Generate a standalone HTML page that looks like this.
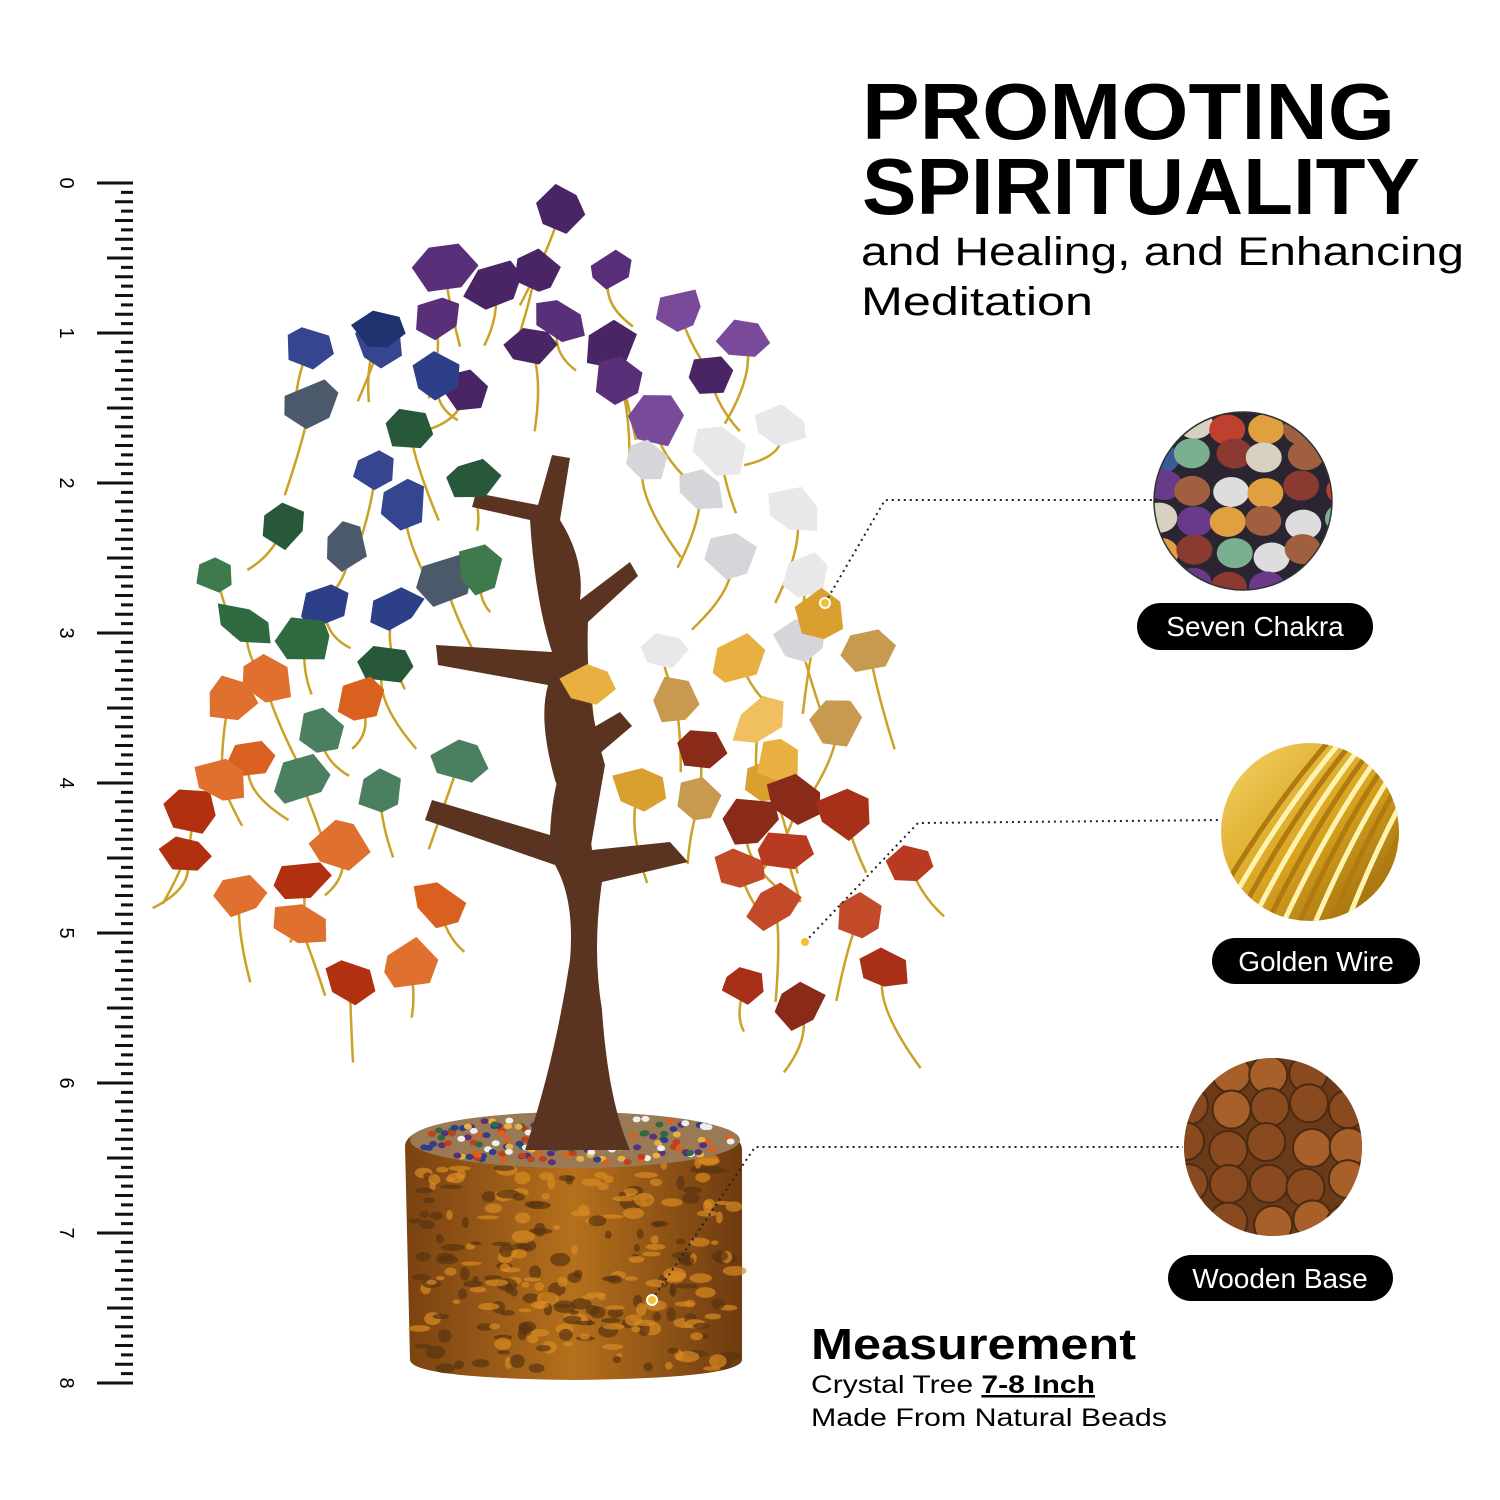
<!DOCTYPE html>
<html><head><meta charset="utf-8"><style>
html,body{margin:0;padding:0;background:#fff;}
svg{display:block;}
text{font-family:"Liberation Sans",sans-serif;}
</style></head><body>
<svg id="s" width="1500" height="1500" viewBox="0 0 1500 1500" xmlns="http://www.w3.org/2000/svg">
<rect width="1500" height="1500" fill="#fff"/>
<defs>
<clipPath id="c1"><circle cx="1243" cy="501" r="89"/></clipPath>
<clipPath id="c2"><circle cx="1310" cy="832" r="89"/></clipPath>
<clipPath id="c3"><circle cx="1273" cy="1147" r="89"/></clipPath>
<linearGradient id="gw" x1="0" y1="0" x2="1" y2="1">
<stop offset="0" stop-color="#f5d46a"/><stop offset="0.5" stop-color="#d9a520"/><stop offset="1" stop-color="#8a5a08"/></linearGradient>
<linearGradient id="wb" x1="0" y1="0" x2="1" y2="0">
<stop offset="0" stop-color="#7a4212"/><stop offset="0.5" stop-color="#b5701c"/><stop offset="1" stop-color="#6e3a10"/></linearGradient>
</defs>
<g id="ruler"></g>
<g id="wires" stroke="#c9a227" stroke-width="2.5" fill="none"></g>
<!-- base -->
<path d="M405 1145 Q410 1115 575 1112 Q742 1115 742 1150 L742 1360 Q740 1378 575 1380 Q412 1378 410 1360 Z" fill="url(#wb)"/>
<g id="bark"></g>
<ellipse cx="575" cy="1140" rx="165" ry="28" fill="#9a7a55"/>
<g id="chips"></g>
<!-- trunk -->
<path d="M525 1150 Q555 1060 570 960 Q575 900 555 865 L425 820 L432 800 L550 835 Q552 780 572 740 L620 712 L632 726 L592 760 Q585 800 592 850 L670 842 L688 862 L602 882 Q592 950 602 1010 Q608 1100 630 1150 Z" fill="#5a3420"/>
<path d="M570 965 Q585 850 555 780 Q538 720 548 685 L438 665 L436 645 L552 652 Q535 600 530 520 L472 507 L476 493 L538 505 L552 455 L570 458 L560 520 Q585 560 580 600 L630 562 L638 576 L588 622 Q585 700 605 765" fill="#5a3420"/>
<g id="stones"></g>
<!-- dotted callouts -->
<g stroke="#222" stroke-width="2" stroke-dasharray="2 4" fill="none">
<polyline points="825,603 885,500 1155,500"/>
<polyline points="805,942 918,823 1220,820"/>
<polyline points="652,1300 755,1147 1183,1147"/>
</g>
<circle cx="825" cy="603" r="5" fill="#f2c230" stroke="#fff" stroke-width="2"/>
<circle cx="805" cy="942" r="5" fill="#f2c230" stroke="#fff" stroke-width="2"/>
<circle cx="652" cy="1300" r="5" fill="#f2c230" stroke="#fff" stroke-width="2"/>
<!-- circles -->
<g clip-path="url(#c1)"><rect x="1150" y="410" width="190" height="185" fill="#2a2530"/><g id="peb"></g></g>
<circle cx="1243" cy="501" r="89" fill="none" stroke="#333" stroke-width="1.5"/>
<g clip-path="url(#c2)"><rect x="1220" y="740" width="190" height="185" fill="url(#gw)"/><g id="gl"></g></g>
<g clip-path="url(#c3)"><rect x="1180" y="1055" width="190" height="185" fill="#6b3a18"/><g id="lg"></g></g>
<rect x="1137" y="603" width="236" height="47" rx="23.5" fill="#000"/>
<text x="1255" y="636" font-size="28" fill="#fff" text-anchor="middle">Seven Chakra</text>
<rect x="1212" y="938" width="208" height="46" rx="23" fill="#000"/>
<text x="1316" y="971" font-size="28" fill="#fff" text-anchor="middle">Golden Wire</text>
<rect x="1168" y="1255" width="225" height="46" rx="23" fill="#000"/>
<text x="1280" y="1288" font-size="28" fill="#fff" text-anchor="middle">Wooden Base</text>
<!-- headings -->
<text x="862" y="139" font-size="80" font-weight="bold" fill="#000" textLength="533" lengthAdjust="spacingAndGlyphs">PROMOTING</text>
<text x="862" y="214" font-size="80" font-weight="bold" fill="#000" textLength="558" lengthAdjust="spacingAndGlyphs">SPIRITUALITY</text>
<text x="861" y="265" font-size="40" fill="#000" textLength="603" lengthAdjust="spacingAndGlyphs">and Healing, and Enhancing</text>
<text x="861" y="315" font-size="40" fill="#000" textLength="232" lengthAdjust="spacingAndGlyphs">Meditation</text>
<text x="811" y="1359" font-size="44" font-weight="bold" fill="#000" textLength="325" lengthAdjust="spacingAndGlyphs">Measurement</text>
<text x="811" y="1393" font-size="25" fill="#000" textLength="284" lengthAdjust="spacingAndGlyphs">Crystal Tree <tspan font-weight="bold" text-decoration="underline">7-8 Inch</tspan></text>
<text x="811" y="1426" font-size="25" fill="#000" textLength="356" lengthAdjust="spacingAndGlyphs">Made From Natural Beads</text>
</svg>
<script>
var NS="http://www.w3.org/2000/svg";
function el(p,t,a){var e=document.createElementNS(NS,t);for(var k in a)e.setAttribute(k,a[k]);p.appendChild(e);return e;}
var seed=7;function r(){seed=(seed*16807)%2147483647;return seed/2147483647;}
var R=document.getElementById('ruler');
for(var i=0;i<=128;i++){var y=183+i*150/16;var L=i%16==0?36:(i%8==0?26:(i%2==0?18:12));
el(R,'rect',{x:133-L,y:y-1.5,width:L,height:3,fill:'#111'});}
for(var n=0;n<=8;n++){var t=el(R,'text',{x:0,y:0,'font-size':20,fill:'#000','text-anchor':'middle',transform:'translate(60,'+(183+n*150)+') rotate(90)'});t.textContent=n;}
var S=document.getElementById('stones'),W=document.getElementById('wires');
var groups=[
 [['#5a2f7a','#7a4a9a','#4a2566'],[[560,210],[445,268],[495,285],[535,272],[612,270],[680,310],[745,340],[530,345],[610,345],[435,318],[465,390],[655,420],[710,375],[560,320],[620,380]]],
 [['#e8e8ea','#d6d6da','#f2f2f2'],[[645,460],[720,450],[780,425],[795,510],[730,555],[805,575],[665,650],[800,640],[700,490]]],
 [['#2e3f8a','#1f3270','#36458f','#4a5a6a'],[[310,345],[380,345],[438,375],[310,405],[375,470],[405,505],[345,545],[325,605],[395,610],[445,580],[380,330]]],
 [['#2f6a40','#3e7a4c','#27583a','#4a8060'],[[285,525],[215,575],[245,625],[305,640],[410,430],[470,480],[480,570],[385,665],[320,730],[300,780],[380,790],[460,760]]],
 [['#e8b040','#d9a030','#f0c060','#c89a50'],[[820,615],[870,650],[590,685],[675,700],[740,660],[835,720],[640,790],[700,800],[770,780],[760,720],[780,760]]],
 [['#c04018','#d9601e','#b03010','#e07030'],[[230,700],[265,680],[250,760],[190,810],[185,855],[240,895],[300,880],[340,845],[300,925],[350,980],[410,965],[440,905],[360,700],[220,780]]],
 [['#a83018','#b83a20','#8a2a18','#c24a28'],[[700,750],[750,820],[795,800],[845,815],[910,865],[860,915],[775,905],[745,985],[800,1005],[885,970],[740,870],[785,850]]]
];
groups.forEach(function(g){var cols=g[0];g[1].forEach(function(p){
 el(W,'path',{d:'M'+(p[0]+(r()-0.5)*80)+' '+(p[1]+40+r()*60)+' Q'+(p[0]+(r()-0.5)*30)+' '+(p[1]+30)+' '+p[0]+' '+p[1]});
 var w=46+r()*20,h=38+r()*16,a=(r()-0.5)*80,pts=[];
 for(var k=0;k<6;k++){var ang=k/6*Math.PI*2+r()*0.4;pts.push((p[0]+Math.cos(ang)*w/2*(0.8+r()*0.3)).toFixed(1)+','+(p[1]+Math.sin(ang)*h/2*(0.8+r()*0.3)).toFixed(1));}
 el(S,'polygon',{points:pts.join(' '),fill:cols[Math.floor(r()*cols.length)],transform:'rotate('+a.toFixed(0)+' '+p[0]+' '+p[1]+')'});
});});
var B=document.getElementById('bark');
for(var i=0;i<260;i++){el(B,'ellipse',{cx:415+r()*320,cy:1160+r()*210,rx:3+r()*9,ry:2+r()*5,fill:r()>0.5?'#d98a22':'#5a3410',opacity:0.7});}
var C=document.getElementById('chips');var cc=['#c04018','#2f6a40','#e8b040','#2e3f8a','#eee','#5a2f7a','#d9601e'];
for(var i=0;i<160;i++){var ang=r()*Math.PI*2,rr=Math.sqrt(r());el(C,'ellipse',{cx:575+Math.cos(ang)*160*rr,cy:1140+Math.sin(ang)*24*rr,rx:4,ry:3,fill:cc[i%7]});}
var P=document.getElementById('peb');var pc=['#e0a040','#ddd','#6a3a8a','#3a5a9a','#c04030','#7ab090','#a06040','#d8d0c0','#8a3a30'];
for(var y=420;y<600;y+=32)for(var x=1155;x<1340;x+=36){el(P,'ellipse',{cx:x+r()*10,cy:y+r()*10,rx:18,ry:15,fill:pc[Math.floor(r()*9)]});}
var G=document.getElementById('gl');for(var i=0;i<14;i++){el(G,'path',{d:'M'+(1200+i*16)+' 930 Q'+(1260+i*14)+' 820 '+(1330+i*12)+' 740',stroke:i%2?'#fff3b0':'#b07a10','stroke-width':5,fill:'none'});}
var LG=document.getElementById('lg');for(var y=1065;y<1240;y+=38)for(var x=1185;x<1370;x+=40){el(LG,'circle',{cx:x+r()*10,cy:y+r()*10,r:19,fill:r()>0.5?'#a8602a':'#8a4a20',stroke:'#4a2a10','stroke-width':2});}
</script>
</body></html>
